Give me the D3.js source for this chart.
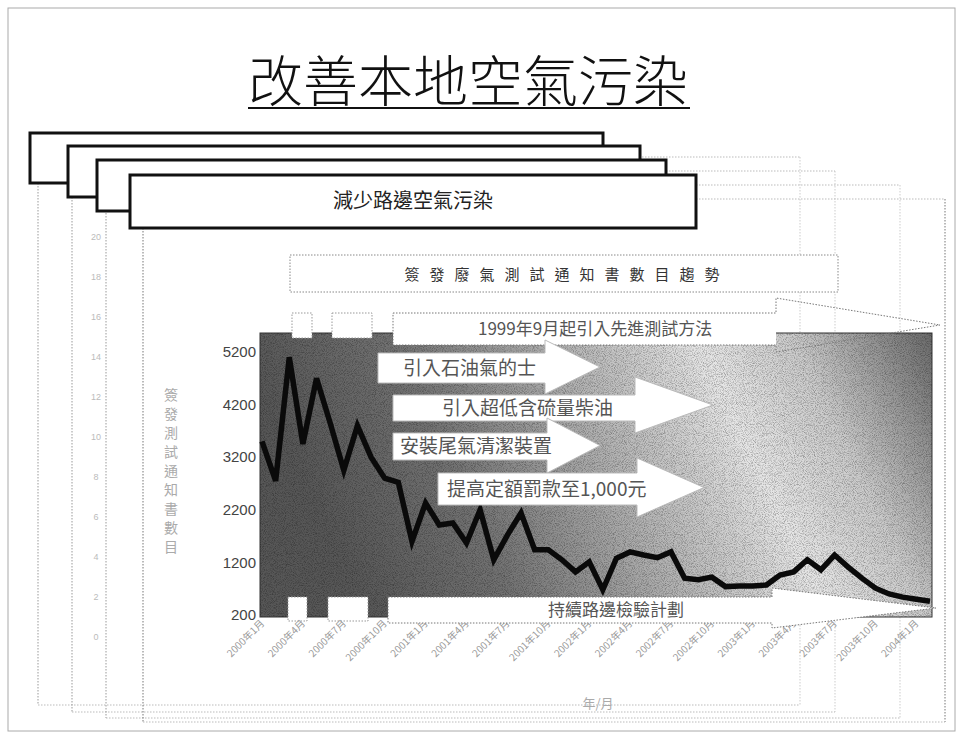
<!DOCTYPE html>
<html>

<head>
    <meta charset="utf-8">
    <style>
        body {
            margin: 0;
            background: #fff;
        }

        svg {
            display: block;
            font-family: "Noto Sans CJK TC", "Noto Sans CJK SC", sans-serif;
        }

        .num {
            font-family: "Liberation Sans", Arial, sans-serif;
        }
    </style>
</head>

<body>
    <svg width="962" height="736"></svg>
</body>

<script src="https://d3js.org/d3.v7.min.js"></script>

<script>
    // monthly categories (x axis)
    let months = [
        "2000年1月", "2000年2月", "2000年3月", "2000年4月", "2000年5月", "2000年6月",
        "2000年7月", "2000年8月", "2000年9月", "2000年10月", "2000年11月", "2000年12月",
        "2001年1月", "2001年2月", "2001年3月", "2001年4月", "2001年5月", "2001年6月",
        "2001年7月", "2001年8月", "2001年9月", "2001年10月", "2001年11月", "2001年12月",
        "2002年1月", "2002年2月", "2002年3月", "2002年4月", "2002年5月", "2002年6月",
        "2002年7月", "2002年8月", "2002年9月", "2002年10月", "2002年11月", "2002年12月",
        "2003年1月", "2003年2月", "2003年3月", "2003年4月", "2003年5月", "2003年6月",
        "2003年7月", "2003年8月", "2003年9月", "2003年10月", "2003年11月", "2003年12月",
        "2004年1月", "2004年2月"
    ]

    // number of notices issued each month
    let notices = [
        3500, 2750, 5100, 3450, 4700, 3850, 2950, 3800, 3200, 2800,
        2720, 1600, 2330, 1910, 1950, 1570, 2200, 1250, 1720, 2140,
        1440, 1440, 1250, 1020, 1210, 680, 1280, 1400, 1340, 1290,
        1400, 900, 870, 920, 740, 750, 750, 770, 960, 1020,
        1250, 1060, 1340, 1110, 900, 710, 600, 540, 500, 460
    ]

    let yTicks = [200, 1200, 2200, 3200, 4200, 5200]
    let tickEvery = 3

    let title = "改善本地空氣污染"
    let sectionTitle = "減少路邊空氣污染"
    let chartTitle = "簽發廢氣測試通知書數目趨勢"
    let yTitle = "簽發測試通知書數目"
    let xTitle = "年/月"
    let backTicks = ["20", "18", "16", "14", "12", "10", "8", "6", "4", "2", "0"]

    // annotation arrows: text only here, geometry in arrowLayout
    let measures = [
        "1999年9月起引入先進測試方法",
        "引入石油氣的士",
        "引入超低含硫量柴油",
        "安裝尾氣清潔裝置",
        "提高定額罰款至1,000元",
        "持續路邊檢驗計劃"
    ]

    let arrowLayout = [
        { x0: 393, x1: 776, xt: 940, y0: 313, y1: 345, h0: 298, h1: 352, tx: 478, fs: 17, dotted: true, open: true },
        { x0: 378, x1: 545, xt: 600, y0: 353, y1: 383, h0: 340, h1: 394, tx: 403, fs: 19 },
        { x0: 393, x1: 635, xt: 713, y0: 395, y1: 421, h0: 377, h1: 433, tx: 442, fs: 19 },
        { x0: 393, x1: 547, xt: 600, y0: 433, y1: 460, h0: 418, h1: 473, tx: 400, fs: 19 },
        { x0: 438, x1: 637, xt: 704, y0: 473, y1: 505, h0: 458, h1: 517, tx: 447, fs: 19 },
        { x0: 388, x1: 772, xt: 936, y0: 597, y1: 623, h0: 588, h1: 628, tx: 548, fs: 17, dotted: true }
    ]

    let svg = d3.select("svg")

    let plot = { left: 260, right: 932, top: 333, bottom: 617 }

    let x = d3.scalePoint()
        .domain(d3.range(months.length))
        .range([262, 930])

    let y = d3.scaleLinear()
        .domain([200, 5200])
        .range([615, 352])

    // defs: gradient + halftone-ish speckle
    let defs = svg.append("defs")

    let grad = defs.append("linearGradient")
        .attr("id", "bg")
        .attr("x1", "0%").attr("y1", "20%")
        .attr("x2", "100%").attr("y2", "0%")
    let stops = [[0, "#575757"], [0.22, "#727272"], [0.45, "#b0b0b0"], [0.66, "#e6e6e6"], [0.8, "#cacaca"], [1, "#6a6a6a"]]
    stops.forEach(s => grad.append("stop").attr("offset", s[0]).attr("stop-color", s[1]))

    let noise = defs.append("filter").attr("id", "noise")
        .attr("x", 0).attr("y", 0).attr("width", 1).attr("height", 1)
    noise.append("feTurbulence")
        .attr("type", "fractalNoise")
        .attr("baseFrequency", 1.1)
        .attr("numOctaves", 1)
        .attr("seed", 7)
        .attr("result", "t")
    noise.append("feColorMatrix")
        .attr("type", "matrix")
        .attr("values", "0 0 0 0 0  0 0 0 0 0  0 0 0 0 0  3 0 0 0 -1.3")

    defs.append("clipPath").attr("id", "plotclip")
        .append("rect")
        .attr("x", plot.left).attr("y", plot.top)
        .attr("width", plot.right - plot.left).attr("height", plot.bottom - plot.top)

    // slide frame
    svg.append("rect")
        .attr("x", 8).attr("y", 8).attr("width", 947).attr("height", 723)
        .style("fill", "none").style("stroke", "#aaa").style("stroke-width", 1)

    // title
    svg.append("text")
        .attr("x", 468).attr("y", 101)
        .attr("text-anchor", "middle")
        .style("font-size", "55px")
        .style("font-weight", 300)
        .style("fill", "#111")
        .text(title)
    svg.append("line")
        .attr("x1", 248).attr("x2", 690).attr("y1", 108).attr("y2", 108)
        .style("stroke", "#111").style("stroke-width", 2)

    // pages stacked behind (dotted outlines)
    let pages = [
        { x: 38, y: 183, r: 800, b: 705 },
        { x: 72, y: 197, r: 835, b: 712 },
        { x: 106, y: 210, r: 900, b: 718 },
        { x: 143, y: 228, r: 945, b: 722 }
    ]
    pages.forEach((p, i) => {
        let col = i == 3 ? "#777" : "#999"
        svg.append("line")
            .attr("x1", p.x).attr("x2", p.x).attr("y1", p.y).attr("y2", p.b)
            .style("stroke", col).style("stroke-dasharray", "1.5,1.5")
        svg.append("line")
            .attr("x1", p.r).attr("x2", p.r).attr("y1", 157 + i * 14).attr("y2", p.b)
            .style("stroke", col).style("stroke-dasharray", "1.5,1.5")
            .style("opacity", i == 3 ? 1 : 0.5)
        svg.append("line")
            .attr("x1", 600 + i * 30).attr("x2", p.r).attr("y1", 157 + i * 14).attr("y2", 157 + i * 14)
            .style("stroke", "#bbb").style("stroke-dasharray", "1.5,1.5")
        svg.append("line")
            .attr("x1", p.x).attr("x2", p.r).attr("y1", p.b).attr("y2", p.b)
            .style("stroke", "#bbb").style("stroke-dasharray", "1.5,1.5")
    })

    // faint axis numbers of the pages behind
    svg.selectAll(".backtick")
        .data(backTicks)
        .join("text")
        .attr("class", "num")
        .attr("x", 96)
        .attr("y", (d, i) => 240 + i * 40)
        .attr("text-anchor", "middle")
        .style("font-size", "9px")
        .style("fill", "#bbb")
        .text(d => d)

    // stacked header boxes
    let boxes = [
        { x: 30, y: 133, r: 603, b: 183 },
        { x: 68, y: 146, r: 640, b: 197 },
        { x: 97, y: 160, r: 666, b: 211 },
        { x: 130, y: 175, r: 696, b: 228 }
    ]
    svg.selectAll(".hbox")
        .data(boxes)
        .join("rect")
        .attr("x", d => d.x).attr("y", d => d.y)
        .attr("width", d => d.r - d.x).attr("height", d => d.b - d.y)
        .style("fill", "#fff")
        .style("stroke", "#111")
        .style("stroke-width", 3)

    svg.append("text")
        .attr("x", 413).attr("y", 208)
        .attr("text-anchor", "middle")
        .style("font-size", "20px")
        .style("fill", "#222")
        .text(sectionTitle)

    // chart title box
    svg.append("rect")
        .attr("x", 290).attr("y", 255).attr("width", 548).attr("height", 37)
        .style("fill", "#fff")
        .style("stroke", "#888").style("stroke-dasharray", "1.5,1.5")
    svg.append("text")
        .attr("x", 567).attr("y", 280)
        .attr("text-anchor", "middle")
        .style("font-size", "15px")
        .style("letter-spacing", "10px")
        .style("fill", "#333")
        .text(chartTitle)

    // plot background
    svg.append("rect")
        .attr("x", plot.left).attr("y", plot.top)
        .attr("width", plot.right - plot.left).attr("height", plot.bottom - plot.top)
        .style("fill", "url(#bg)")
        .style("stroke", "#333")
    svg.append("rect")
        .attr("clip-path", "url(#plotclip)")
        .attr("x", plot.left).attr("y", plot.top)
        .attr("width", plot.right - plot.left).attr("height", plot.bottom - plot.top)
        .attr("filter", "url(#noise)")
        .style("opacity", 0.3)

    // little white tabs on the plot edges
    let tabs = [
        { x: 292, w: 20, y: 313, h: 25 }, { x: 332, w: 40, y: 313, h: 25 },
        { x: 288, w: 19, y: 597, h: 24 }, { x: 328, w: 40, y: 597, h: 24 }
    ]
    svg.selectAll(".tab")
        .data(tabs)
        .join("rect")
        .attr("x", d => d.x).attr("y", d => d.y)
        .attr("width", d => d.w).attr("height", d => d.h)
        .style("fill", "#fff")
        .style("stroke", "#999").style("stroke-dasharray", "1.5,1.5")

    // y axis labels
    svg.selectAll(".ytick")
        .data(yTicks)
        .join("text")
        .attr("class", "num")
        .attr("x", 256)
        .attr("y", d => y(d))
        .attr("dy", "0.35em")
        .attr("text-anchor", "end")
        .style("font-size", "15px")
        .style("fill", "#444")
        .text(d => d)

    // x axis labels, every third month
    svg.selectAll(".xtick")
        .data(months.filter((m, i) => i % tickEvery == 0))
        .join("text")
        .attr("transform", (d, i) => "translate(" + (x(i * tickEvery) + 3) + ",624) rotate(-45)")
        .attr("text-anchor", "end")
        .style("font-size", "10px")
        .style("fill", "#999")
        .text(d => d)

    // axis titles
    svg.selectAll(".ytitle")
        .data(yTitle.split(""))
        .join("text")
        .attr("x", 171)
        .attr("y", (d, i) => 400 + i * 19)
        .attr("text-anchor", "middle")
        .style("font-size", "14px")
        .style("fill", "#aaa")
        .text(d => d)

    svg.append("text")
        .attr("x", 598).attr("y", 708)
        .attr("text-anchor", "middle")
        .style("font-size", "13px")
        .style("fill", "#aaa")
        .text(xTitle)

    // the data line
    let line = d3.line()
        .x((d, i) => x(i))
        .y(d => y(d))

    svg.append("path")
        .datum(notices)
        .attr("d", line)
        .style("fill", "none")
        .style("stroke", "#0a0a0a")
        .style("stroke-width", 5.5)
        .style("stroke-linejoin", "miter")

    // arrows
    function bodyPath(a) {
        return "M" + a.x0 + "," + a.y0 + "L" + a.x1 + "," + a.y0 +
            "L" + a.x1 + "," + a.y1 + "L" + a.x0 + "," + a.y1 + "Z"
    }

    function arrowPath(a) {
        let mid = (a.h0 + a.h1) / 2
        return "M" + a.x0 + "," + a.y0 +
            "L" + a.x1 + "," + a.y0 +
            "L" + a.x1 + "," + a.h0 +
            "L" + a.xt + "," + mid +
            "L" + a.x1 + "," + a.h1 +
            "L" + a.x1 + "," + a.y1 +
            "L" + a.x0 + "," + a.y1 + "Z"
    }

    let arrows = svg.selectAll(".arrow")
        .data(arrowLayout)
        .join("g")

    // open-headed arrow: only the body is filled, the head is an outline
    arrows.filter(d => d.open)
        .append("path")
        .attr("d", bodyPath)
        .style("fill", "#fff")

    arrows.append("path")
        .attr("d", arrowPath)
        .style("fill", d => d.open ? "none" : "#fff")
        .style("stroke", d => d.dotted ? "#777" : "#bbb")
        .style("stroke-width", 1)
        .style("stroke-dasharray", d => d.dotted ? "1.5,1.5" : null)

    arrows.append("text")
        .attr("x", d => d.tx)
        .attr("y", d => (d.y0 + d.y1) / 2)
        .attr("dy", "0.36em")
        .style("font-size", d => d.fs + "px")
        .style("fill", "#555")
        .text((d, i) => measures[i])

</script>

</html>
